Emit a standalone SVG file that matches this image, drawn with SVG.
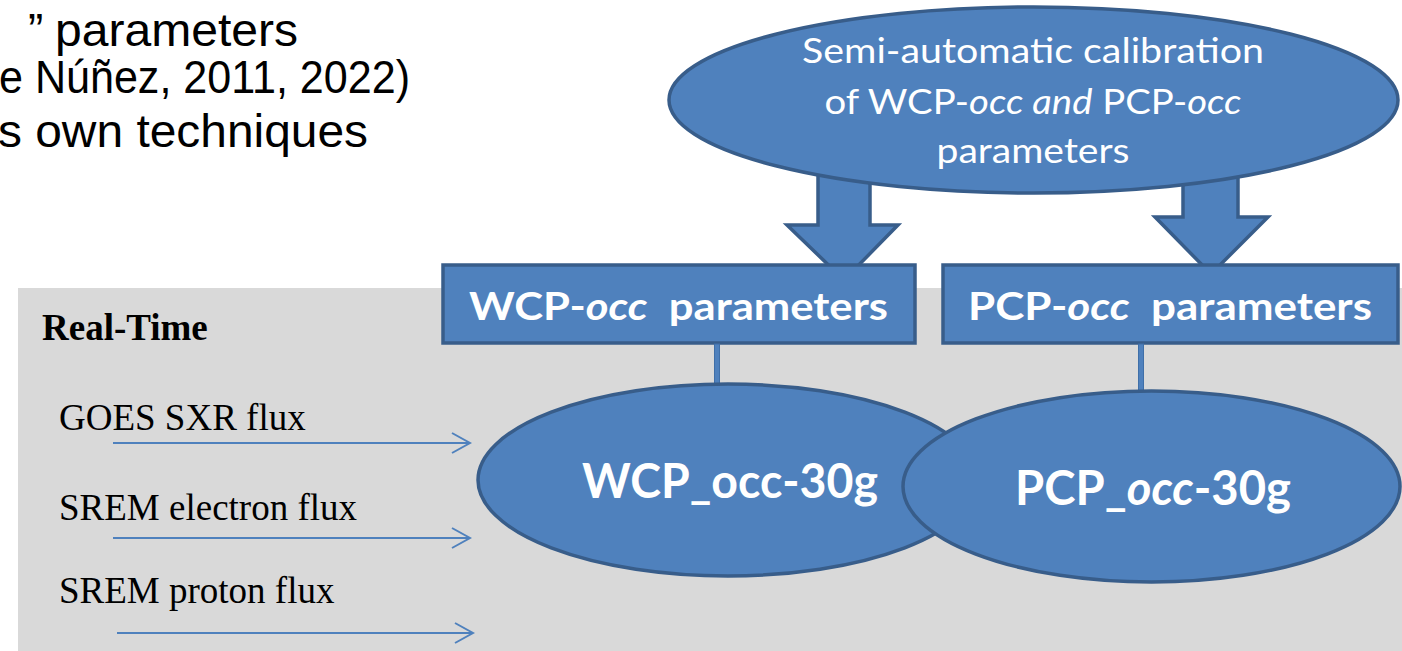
<svg xmlns="http://www.w3.org/2000/svg" width="1402" height="651" viewBox="0 0 1402 651">
  <defs>
    <style>
      .shape { fill: #4F81BD; stroke: #385D8A; stroke-width: 3.5; }
      .topline { font-family: Lato, "Open Sans", sans-serif; font-size: 35px; fill: #FFFFFF; text-anchor: middle; }
      .rlabel { font-family: Lato, "Open Sans", sans-serif; font-size: 38px; font-weight: bold; fill: #FFFFFF; }
      .elabel { font-family: Lato, "Open Sans", sans-serif; font-size: 47px; font-weight: bold; fill: #FFFFFF; text-anchor: middle; }
      .serif { font-family: "Liberation Serif", "Times New Roman", serif; font-size: 37px; fill: #000000; }
      .hdr { font-family: "Liberation Sans", Arial, sans-serif; font-size: 46px; fill: #000000; }
      .conn { fill: #4F81BD; stroke: #3F6FA8; stroke-width: 1; }
      .inarrow { stroke: #4F81BD; stroke-width: 2; fill: none; }
      .it { font-style: italic; }
    </style>
    <marker id="chev" markerUnits="userSpaceOnUse" markerWidth="22" markerHeight="24" refX="18" refY="10" orient="auto" viewBox="-2 -2 22 24">
      <path d="M0,0 L18,10 L0,20" fill="none" stroke="#4F81BD" stroke-width="2"/>
    </marker>
  </defs>

  <rect width="1402" height="651" fill="#FFFFFF"/>

  <g id="header-text">
    <text class="hdr" x="28" y="46">”<tspan x="55" textLength="243" lengthAdjust="spacingAndGlyphs">parameters</tspan></text>
    <text class="hdr" x="-1" y="93" textLength="411" lengthAdjust="spacingAndGlyphs">e Núñez, 2011, 2022)</text>
    <text class="hdr" x="-2" y="147" textLength="370" lengthAdjust="spacingAndGlyphs">s own techniques</text>
  </g>

  <g id="realtime-panel">
    <rect x="18" y="288" width="1384" height="363" fill="#D9D9D9"/>
    <text class="serif" x="42" y="340" font-weight="bold">Real-Time</text>
  </g>

  <g id="input-goes">
    <text class="serif" x="59" y="430">GOES SXR flux</text>
  </g>
  <g id="input-srem-electron">
    <text class="serif" x="59" y="520">SREM electron flux</text>
  </g>
  <g id="input-srem-proton">
    <text class="serif" x="59" y="603">SREM proton flux</text>
  </g>

  <g id="block-arrows">
    <path class="shape" d="M818,150 L870,150 L870,225 L898,225 L844,280 L787,225 L818,225 Z"/>
    <path class="shape" d="M1183,150 L1238,150 L1238,217 L1268,217 L1211,274 L1155,217 L1183,217 Z"/>
  </g>

  <g id="calibration">
    <ellipse class="shape" cx="1033.5" cy="100" rx="364.5" ry="93"/>
    <text class="topline" x="1033" y="63" textLength="462" lengthAdjust="spacingAndGlyphs">Semi-automatic calibration</text>
    <text class="topline" x="1033" y="114" textLength="417" lengthAdjust="spacingAndGlyphs">of WCP-<tspan class="it">occ and</tspan> PCP-<tspan class="it">occ</tspan></text>
    <text class="topline" x="1033" y="163" textLength="193" lengthAdjust="spacingAndGlyphs">parameters</text>
  </g>

  <g id="wcp-params">
    <rect class="shape" x="443" y="265" width="472" height="78"/>
    <text class="rlabel" x="469" y="320" xml:space="preserve" textLength="419" lengthAdjust="spacingAndGlyphs">WCP-<tspan class="it">occ</tspan>  parameters</text>
  </g>

  <g id="pcp-params">
    <rect class="shape" x="943" y="265" width="455" height="78"/>
    <text class="rlabel" x="968" y="320" xml:space="preserve" textLength="404" lengthAdjust="spacingAndGlyphs">PCP-<tspan class="it">occ</tspan>  parameters</text>
  </g>

  <g id="connectors">
    <rect class="conn" x="714.5" y="344" width="5" height="42"/>
    <rect class="conn" x="1138.5" y="344" width="5" height="48"/>
    <line class="inarrow" x1="113" y1="443" x2="470" y2="443" marker-end="url(#chev)"/>
    <line class="inarrow" x1="113" y1="538" x2="470" y2="538" marker-end="url(#chev)"/>
    <line class="inarrow" x1="117" y1="633" x2="473" y2="633" marker-end="url(#chev)"/>
  </g>

  <g id="wcp-occ-30g">
    <ellipse class="shape" cx="728" cy="480" rx="250" ry="96"/>
    <text class="elabel" x="730" y="498" textLength="296" lengthAdjust="spacingAndGlyphs">WCP_occ-30g</text>
  </g>

  <g id="pcp-occ-30g">
    <ellipse class="shape" cx="1151.5" cy="486.5" rx="248.5" ry="95.5"/>
    <text class="elabel" x="1153" y="505" textLength="276" lengthAdjust="spacingAndGlyphs">PCP_<tspan class="it">occ</tspan>-30g</text>
  </g>
</svg>
